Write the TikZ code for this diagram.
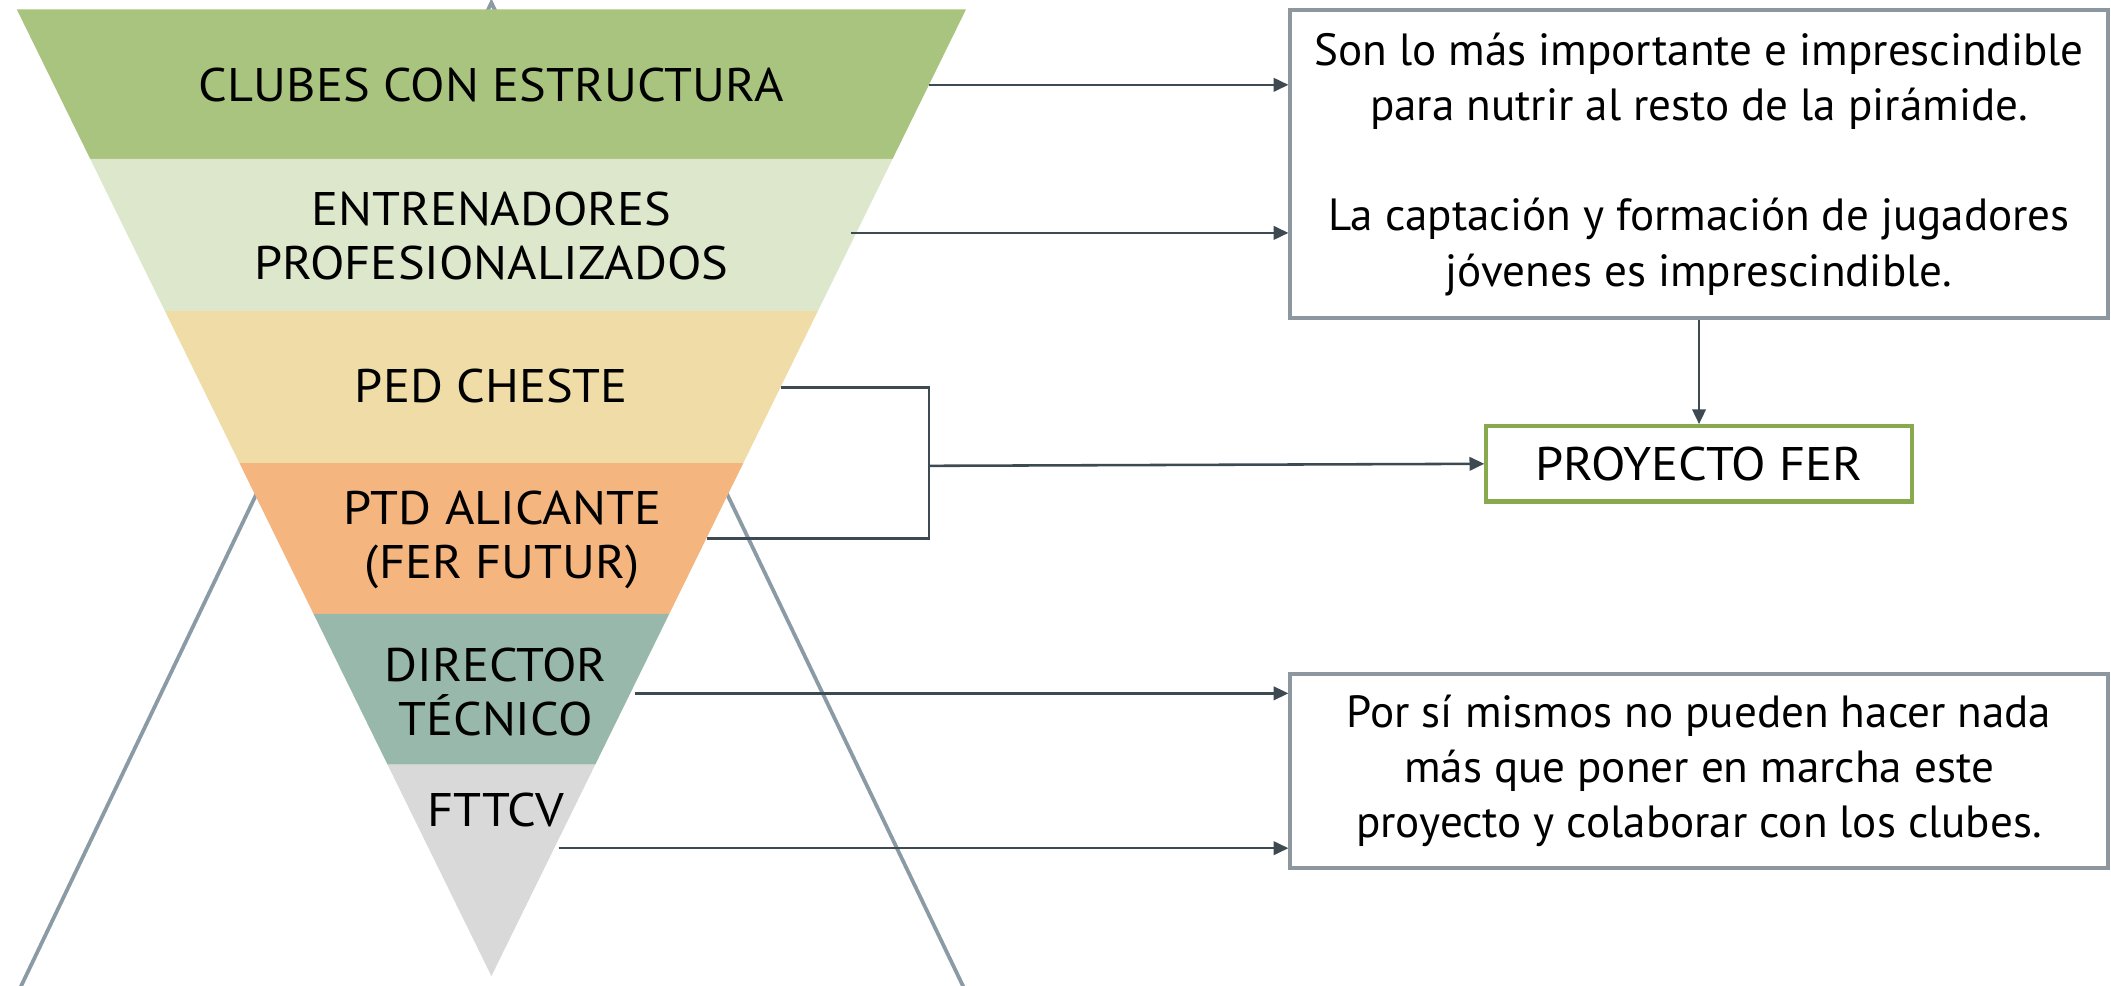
\documentclass[tikz,border=0pt]{standalone}
\usepackage{fontspec}
\setmainfont{PT Sans}
\newfontfamily\bandfont[FakeStretch=1.07]{PT Sans}
\usetikzlibrary{arrows.meta}
\definecolor{bandA}{HTML}{A9C47F}
\definecolor{bandB}{HTML}{DDE7CB}
\definecolor{bandC}{HTML}{F0DCA7}
\definecolor{bandD}{HTML}{F4B57E}
\definecolor{bandE}{HTML}{97B8AA}
\definecolor{bandF}{HTML}{D9D9D9}
\definecolor{bigtri}{HTML}{8A9BA6}
\definecolor{connc}{HTML}{3E4A52}
\definecolor{boxgray}{HTML}{8C979F}
\definecolor{boxgreen}{HTML}{88A94E}
\tikzset{
  bigline/.style={draw=bigtri, line width=2.8pt},
  bandtext/.style={font=\bandfont\fontsize{35}{40}\selectfont, align=center, inner sep=0pt},
  conn/.style={draw=connc, line width=1.9pt},
  arr/.style={conn, -{Triangle[length=11pt,width=10pt]}},
  infobox/.style={draw=boxgray, line width=3pt, fill=white, font=\fontsize{33.5}{41}\selectfont, align=center, inner sep=0pt},
  ferbox/.style={draw=boxgreen, line width=3pt, fill=white, font=\bandfont\fontsize{35}{40}\selectfont, align=center, inner sep=0pt}
}
\begin{document}
\begin{tikzpicture}[x=1pt,y=-1pt]
\useasboundingbox (0,0) rectangle (1568,732);
\fill[white] (0,0) rectangle (1568,732);
\begin{scope}
\clip (0,0) rectangle (1568,732);
\draw[bigline] (13,738) -- (365,2) -- (718,738);
\end{scope}
% pyramid bands
\fill[bandA] (12.5,7) -- (717.5,7) -- (663,118) -- (67,118) -- cycle;
\fill[bandB] (67,118) -- (663,118) -- (607.5,231) -- (122.5,231) -- cycle;
\fill[bandC] (122.5,231) -- (607.5,231) -- (552.1,344) -- (177.9,344) -- cycle;
\fill[bandD] (177.9,344) -- (552.1,344) -- (497.1,456) -- (232.9,456) -- cycle;
\fill[bandE] (232.9,456) -- (497.1,456) -- (442.1,568) -- (287.9,568) -- cycle;
\fill[bandF] (287.9,568) -- (442.1,568) -- (365,725) -- cycle;
% band labels
\node[bandtext] (tA) at (365,63) {CLUBES CON ESTRUCTURA};
\node[bandtext] (tB) at (365,175) {ENTRENADORES\\PROFESIONALIZADOS};
\node[bandtext] (tC) at (365,287) {PED CHESTE};
\node[bandtext] (tD) at (373,401) {PTD ALICANTE\\(FER FUTUR)};
\node[bandtext] (tE) at (368,514) {DIRECTOR\\TÉCNICO};
\node[bandtext] (tF) at (368,602) {FTTCV};
% connector starts
\coordinate (cA) at (690,63);
\coordinate (cB) at (632,173);
\coordinate (cC) at (580,288);
\coordinate (cD) at (525,400);
\coordinate (cE) at (472,515);
\coordinate (cF) at (415,630);
\coordinate (jn) at (690,346);
% boxes
\node[infobox, minimum width=607pt, minimum height=229pt] (box1) at (1262,122) {Son lo más importante e imprescindible\\para nutrir al resto de la pirámide.\\[41pt]La captación y formación de jugadores\\jóvenes es imprescindible.};
\node[ferbox, minimum width=316pt, minimum height=56pt] (fer) at (1262,344.5) {PROYECTO FER};
\node[infobox, minimum width=607pt, minimum height=144pt] (box3) at (1262,572.5) {Por sí mismos no pueden hacer nada\\más que poner en marcha este\\proyecto y colaborar con los clubes.};
% connectors
\draw[arr] (cA) -- (cA -| box1.west);
\draw[arr] (cB) -- (cB -| box1.west);
\draw[conn] (cC) -| (jn) |- (cD);
\draw[arr] (jn) -- (fer.west);
\draw[arr] (box1.south) -- (fer.north);
\draw[arr] (cE) -- (cE -| box3.west);
\draw[arr] (cF) -- (cF -| box3.west);
\end{tikzpicture}
\end{document}
